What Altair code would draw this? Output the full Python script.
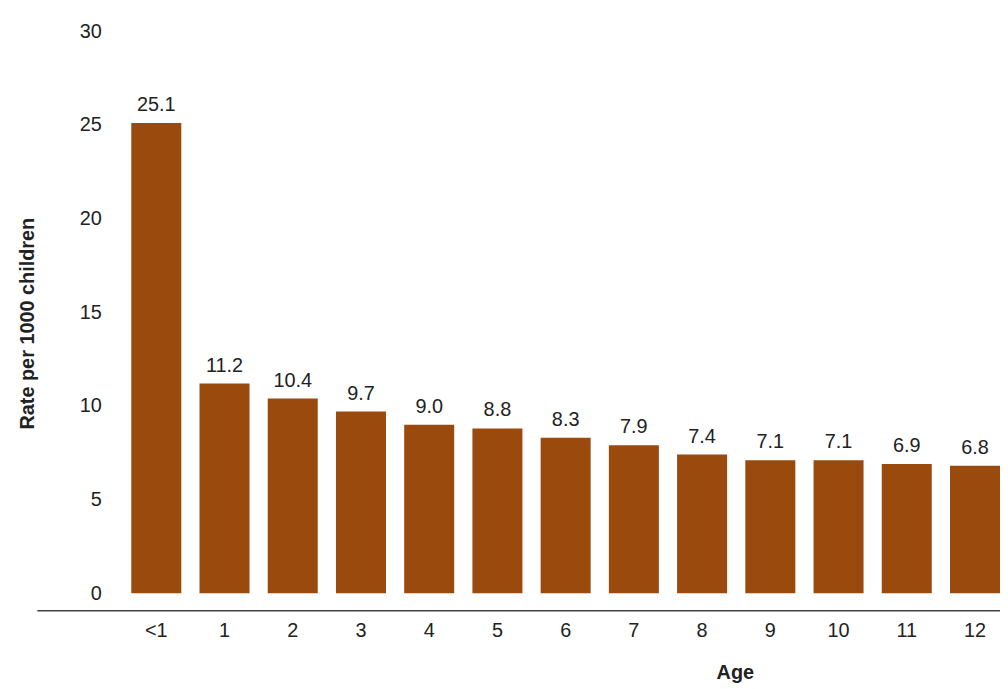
import altair as alt
import pandas as pd

ages = ["<1", "1", "2", "3", "4", "5", "6", "7", "8", "9", "10", "11", "12"]
rates = [25.1, 11.2, 10.4, 9.7, 9.0, 8.8, 8.3, 7.9, 7.4, 7.1, 7.1, 6.9, 6.8]

df = pd.DataFrame({"Age": ages, "Rate": rates})

FONT = "Liberation Sans"
BAR = "#994A0C"
TXT = "#222222"
FS = 20

x = alt.X(
    "Age:N",
    sort=ages,
    scale=alt.Scale(paddingInner=0.267, paddingOuter=0.6925, align=1),
    axis=alt.Axis(
        title="Age", labelAngle=0, ticks=False, offset=17,
        domainColor="#444444", domainWidth=1.5,
        labelFont=FONT, labelFontSize=FS, labelColor=TXT, labelPadding=11,
        titleFont=FONT, titleFontSize=FS, titleFontWeight="bold", titleColor=TXT,
        titleX=703, titlePadding=22,
    ),
)
y = alt.Y(
    "Rate:Q",
    scale=alt.Scale(domain=[0, 30]),
    axis=alt.Axis(
        title="Rate per 1000 children", values=[0, 5, 10, 15, 20, 25, 30],
        grid=False, domain=False, ticks=False, offset=-65, labelPadding=0,
        labelFont=FONT, labelFontSize=FS, labelColor=TXT,
        titleFont=FONT, titleFontSize=FS, titleFontWeight="bold", titleColor=TXT,
        titleX=-64, titleY=294,
    ),
)

bars = alt.Chart(df).mark_bar(color=BAR).encode(x=x, y=y)
labels = alt.Chart(df).mark_text(
    baseline="bottom", dy=-8, font=FONT, fontSize=FS, color=TXT
).encode(x=alt.X("Age:N", sort=ages), y="Rate:Q", text=alt.Text("Rate:Q", format=".1f"))

chart = (bars + labels).properties(
    width=970, height=566,
    padding={"left": 10, "top": 11, "right": 0, "bottom": 0},
).configure_view(stroke=None)

chart.save("out.html", embed_options={"renderer": "svg", "actions": False})
